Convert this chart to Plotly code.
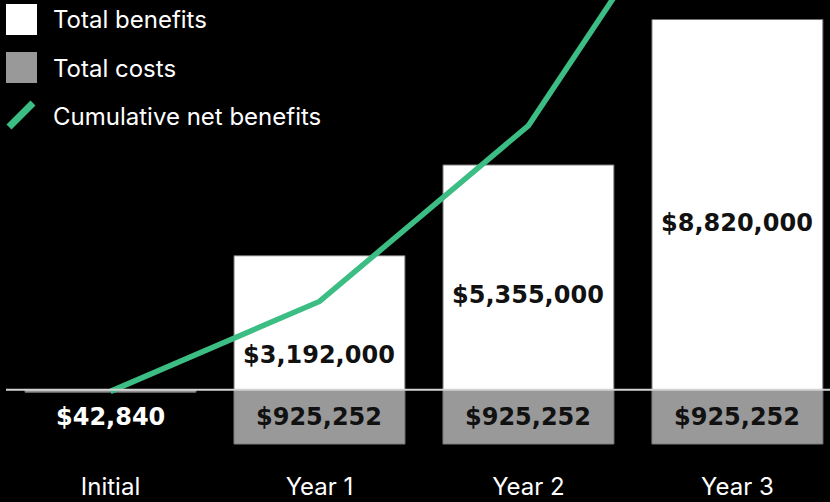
import plotly.graph_objects as go

# ---------------- data ----------------
categories = ["Initial", "Year 1", "Year 2", "Year 3"]
total_benefits = [0, 3192000, 5355000, 8820000]
total_costs = [42840, 925252, 925252, 925252]
cumulative_net_benefits = [-42840, 2223908, 6653656, 14548404]

benefit_labels = ["", "$3,192,000", "$5,355,000", "$8,820,000"]
cost_labels = ["$42,840", "$925,252", "$925,252", "$925,252"]

# ---------------- style / layout constants ----------------
W, H = 830, 502
ML, MR, MT, MB = 6, 0, 0, 37
PLOT_W = W - ML - MR
PLOT_H = H - MT - MB
ZERO_PX = 389.7            # pixel row of the zero line (from plot top)
PX_PER_M_BENEFIT = 41.97   # pixels per million, benefits axis
PX_PER_M_COST = 58.7       # pixels per million, costs axis
PX_PER_M_LINE = 39.7       # pixels per million, cumulative line axis

FONT = "Inter"
BOLD_FONT = "DejaVu Sans"
GREEN = "#3bbd84"
GREY = "#999999"
benefit_label_frac = [0, 0.26, 0.42, 0.45]   # label height as fraction of bar


def axis_range(px_per_m):
    k = px_per_m / 1e6
    return [-(PLOT_H - ZERO_PX) / k, ZERO_PX / k]


def px_x(px):
    return (px - ML) / PLOT_W


def px_y(py):
    return 1 - (py - MT) / PLOT_H


fig = go.Figure()

fig.add_trace(go.Bar(
    name="Total benefits", x=categories, y=total_benefits,
    marker=dict(color="#ffffff", line=dict(color="#707070", width=1)),
    width=0.818, yaxis="y", hoverinfo="x+y",
))
fig.add_trace(go.Bar(
    name="Total costs", x=categories, y=[-c for c in total_costs],
    marker=dict(color=GREY, line=dict(color="#7a7a7a", width=1)),
    width=0.818, yaxis="y2", hoverinfo="x+y",
))
fig.add_trace(go.Scatter(
    name="Cumulative net benefits", x=categories, y=cumulative_net_benefits,
    mode="lines", line=dict(color=GREEN, width=5.5), yaxis="y3",
    cliponaxis=True,
))

annotations = []
# benefit labels
for cat, val, lab, frac in zip(categories, total_benefits, benefit_labels, benefit_label_frac):
    if not lab:
        continue
    annotations.append(dict(
        x=cat, y=val * frac, xref="x", yref="y", text=lab, showarrow=False,
        font=dict(family=BOLD_FONT, size=24, color="#111111", weight="bold"),
        xanchor="center", yanchor="middle",
    ))
# cost labels
cost_row = -max(total_costs) / 2
for i, (cat, lab) in enumerate(zip(categories, cost_labels)):
    annotations.append(dict(
        x=cat, y=cost_row, xref="x", yref="y2", text=lab, showarrow=False,
        font=dict(family=BOLD_FONT, size=24, color="#ffffff" if i == 0 else "#111111",
                  weight="bold"),
        xanchor="center", yanchor="middle",
    ))

# manual legend
legend_items = [("Total benefits", 20), ("Total costs", 68), ("Cumulative net benefits", 116)]
for text, cy in legend_items:
    annotations.append(dict(
        x=px_x(51), y=px_y(cy), xref="paper", yref="paper", text=text,
        showarrow=False, xanchor="left", yanchor="middle",
        font=dict(family=FONT, size=24, color="#ffffff"),
    ))

shapes = [
    dict(type="rect", xref="paper", yref="paper",
         x0=px_x(6), x1=px_x(37), y0=px_y(35), y1=px_y(4),
         fillcolor="#ffffff", line=dict(width=0), layer="above"),
    dict(type="rect", xref="paper", yref="paper",
         x0=px_x(6), x1=px_x(37), y0=px_y(83), y1=px_y(52),
         fillcolor=GREY, line=dict(width=0), layer="above"),
    dict(type="line", xref="paper", yref="paper",
         x0=px_x(9), x1=px_x(33), y0=px_y(127), y1=px_y(103),
         line=dict(color=GREEN, width=7), layer="above"),
    # zero line
    dict(type="line", xref="paper", yref="y", x0=0, x1=1, y0=0, y1=0,
         line=dict(color="#d4d4d4", width=2), layer="above"),
]

hidden = dict(visible=False, showgrid=False, zeroline=False, fixedrange=True)

fig.update_layout(
    width=W, height=H,
    margin=dict(l=ML, r=MR, t=MT, b=MB, pad=0, autoexpand=False),
    paper_bgcolor="#000000", plot_bgcolor="#000000",
    showlegend=False, barmode="overlay",
    font=dict(family=FONT, color="#ffffff"),
    xaxis=dict(
        range=[-0.5, 3.443], showgrid=False, zeroline=False, showline=False,
        ticks="", tickfont=dict(family=FONT, size=24, color="#ffffff"),
        ticklabelstandoff=5, automargin=False,
    ),
    yaxis=dict(range=axis_range(PX_PER_M_BENEFIT), automargin=False, **hidden),
    yaxis2=dict(range=axis_range(PX_PER_M_COST), overlaying="y", automargin=False, **hidden),
    yaxis3=dict(range=axis_range(PX_PER_M_LINE), overlaying="y", automargin=False, **hidden),
    annotations=annotations,
    shapes=shapes,
)

fig.write_html("out.html")
